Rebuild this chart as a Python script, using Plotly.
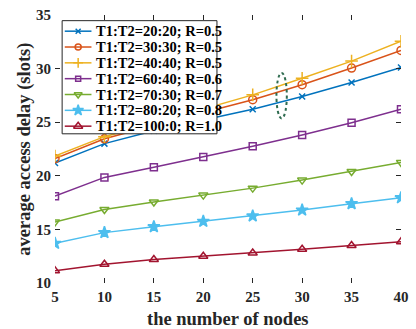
import plotly.graph_objects as go

nodes = [5, 10, 15, 20, 25, 30, 35, 40]
names = ["T1:T2=20:20; R=0.5", "T1:T2=30:30; R=0.5", "T1:T2=40:40; R=0.5",
         "T1:T2=60:40; R=0.6", "T1:T2=70:30; R=0.7", "T1:T2=80:20; R=0.8",
         "T1:T2=100:0; R=1.0"]
s_20_20 = [21.2, 23.0, 24.2, 25.2, 26.2, 27.4, 28.7, 30.1]
s_30_30 = [21.6, 23.45, 24.7, 25.9, 27.1, 28.5, 30.05, 31.7]
s_40_40 = [21.85, 23.65, 24.9, 26.2, 27.55, 29.1, 30.7, 32.55]
s_60_40 = [18.1, 19.85, 20.8, 21.75, 22.75, 23.8, 24.95, 26.2]
s_70_30 = [15.7, 16.85, 17.55, 18.2, 18.85, 19.6, 20.4, 21.25]
s_80_20 = [13.7, 14.7, 15.25, 15.75, 16.25, 16.8, 17.4, 17.95]
s_100_0 = [11.15, 11.75, 12.2, 12.5, 12.8, 13.15, 13.5, 13.85]
series = [s_20_20, s_30_30, s_40_40, s_60_40, s_70_30, s_80_20, s_100_0]
colors = ["#0072BD", "#D95319", "#EDB120", "#7E2F8E", "#77AC30", "#4DBEEE", "#A2142F"]
symbols = ["x-thin", "circle-open", "cross-thin", "square-open",
           "triangle-down-open", "star", "triangle-up-open"]
sizes = [6, 8, 9, 7, 8, 9, 8]
legend_sizes = [5, 6, 7, 5, 7, 8, 8]

x_range = [5, 40]
y_range = [10, 35]
font_family = "Liberation Serif"
ink = "#262626"

# plot-area size in pixels (416 - 55 - 7, 329 - 13 - 46)
PW, PH = 354, 270
def px_x(p):  # pixels from plot-area left -> x data
    return x_range[0] + p / PW * (x_range[1] - x_range[0])
def px_y(p):  # pixels from plot-area bottom -> y data
    return y_range[0] + p / PH * (y_range[1] - y_range[0])

fig = go.Figure()
for nm, ys, c, sym, sz in zip(names, series, colors, symbols, sizes):
    fig.add_trace(go.Scatter(
        x=nodes, y=ys, name=nm, mode="lines+markers", showlegend=False,
        line=dict(color=c, width=1.5), zorder=0,
        marker=dict(symbol=sym, size=sz, color=c, line=dict(color=c, width=1.5)),
    ))

fig.add_shape(type="circle", xref="x", yref="y", x0=27.4, x1=28.45, y0=25.35, y1=29.6,
              line=dict(color="#2E6B4F", width=2, dash="dot"))

# ---- hand-built legend box (higher zorder so it sits on top of the data) ----
box_l, box_r, box_b, box_t = 7.3, 165.7, 150.3, 264.3
row0, row_step = 253.7, 15.95
fig.add_trace(go.Scatter(
    x=[px_x(v) for v in (box_l, box_r, box_r, box_l, box_l)],
    y=[px_y(v) for v in (box_b, box_b, box_t, box_t, box_b)],
    mode="lines", fill="toself", fillcolor="white", zorder=1,
    line=dict(color=ink, width=1), showlegend=False, hoverinfo="skip"))
for i, (nm, c, sym, sz) in enumerate(zip(names, colors, symbols, legend_sizes)):
    ry = px_y(row0 - row_step * i)
    fig.add_trace(go.Scatter(
        x=[px_x(10), px_x(37.3)], y=[ry, ry], mode="lines", zorder=2,
        line=dict(color=c, width=1.5), showlegend=False, hoverinfo="skip"))
    fig.add_trace(go.Scatter(
        x=[px_x(23.7)], y=[ry], mode="markers", zorder=3,
        marker=dict(symbol=sym, size=sz, color=c, line=dict(color=c, width=1.5)),
        showlegend=False, hoverinfo="skip"))
    fig.add_annotation(x=px_x(39.5), y=ry, xref="x", yref="y", text=nm,
                       showarrow=False, xanchor="left", yanchor="middle",
                       font=dict(family=font_family, size=14.5, color="black",
                                 weight="bold"))

# axis titles
title_font = dict(family=font_family, size=18.5, color=ink, weight="bold")
fig.add_annotation(x=0.5, y=(283 - 319) / PH, xref="paper", yref="paper",
                   text="the number of nodes", showarrow=False,
                   xanchor="center", yanchor="middle", font=title_font)
fig.add_annotation(x=(23 - 55) / PW, y=0.5, xref="paper", yref="paper",
                   text="average access delay (slots)", showarrow=False, textangle=-90,
                   xanchor="center", yanchor="middle", font=title_font)

axis_common = dict(
    showline=True, linecolor=ink, linewidth=1, mirror="ticks",
    ticks="inside", ticklen=5, tickcolor=ink, showgrid=False, zeroline=False,
    tickfont=dict(family=font_family, size=15, color=ink, weight="bold"),
)
fig.update_layout(
    xaxis=dict(range=x_range, tickvals=nodes, **axis_common),
    yaxis=dict(range=y_range, tickvals=[10, 15, 20, 25, 30, 35], **axis_common),
    width=416, height=329,
    margin=dict(l=55, r=7, t=13, b=46),
    plot_bgcolor="white", paper_bgcolor="white",
    showlegend=False,
)

fig.write_html("out.html")
